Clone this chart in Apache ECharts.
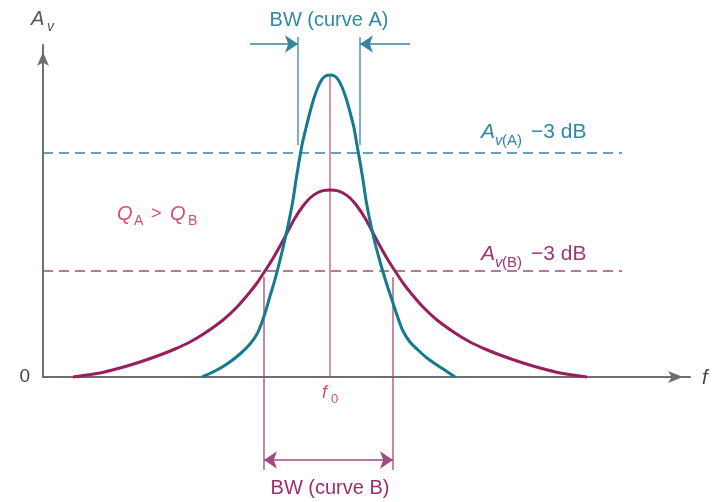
<!DOCTYPE html>
<html>
<head>
<meta charset="utf-8">
<script src="https://cdn.jsdelivr.net/npm/echarts@6/dist/echarts.min.js"></script>
<style>
  html, body { margin: 0; padding: 0; background: #fff; }
  #chart { width: 713px; height: 502px; }
</style>
</head>
<body>
<div id="chart"></div>
<script>
// Frequency and gain are in relative units; f0 sits at 57.4 on the frequency axis.
const xAxisMax = 129.4;
const yAxisMax = 83;

// Curve A: high-Q response (narrow, tall)
const curveA = [
  [31.8, 0], [34.4, 1.5], [36.8, 3.25], [39.4, 5.75], [41.4, 8.25], [42.8, 10.75],
  [43.8, 13.75], [44.6, 16.75], [45.4, 20.25], [46.2, 23.5], [47.0, 27.25], [47.8, 31.25],
  [48.6, 35.5], [49.4, 40.25], [50.0, 44.25], [50.6, 49.25], [51.2, 53.75], [51.8, 58],
  [52.6, 62.25], [53.4, 66.25], [54.2, 69.75], [55.0, 72.5], [55.8, 74.4], [56.6, 75.3],
  [57.4, 75.5], [58.2, 75.3], [59.0, 74.4], [59.8, 72.5], [60.6, 69.75], [61.4, 66.25],
  [62.2, 62.25], [62.8, 58], [63.4, 53.75], [64.0, 49.25], [64.6, 44.25], [65.2, 40.25],
  [65.8, 36.75], [66.4, 33.5], [67.2, 29.75], [68.0, 26.25], [69.0, 22.25], [70.0, 18.5],
  [71.0, 14.75], [72.0, 11.5], [73.4, 8.75], [75.0, 6.75], [76.8, 4.75], [78.8, 3],
  [80.6, 1.5], [82.4, 0]
];
// Curve B: low-Q response (wide, flatter)
const curveB = [
  [6.0, 0], [11.4, 1], [15.4, 2.25], [19.4, 3.75], [23.4, 5.5], [26.4, 7],
  [29.4, 8.75], [32.4, 11], [36.0, 14.25], [38.8, 17.5], [41.4, 21.25], [42.8, 23.5],
  [44.0, 25.75], [45.8, 29.25], [47.4, 32.75], [49.0, 36.5], [50.4, 39.75], [52.0, 42.75],
  [53.4, 44.75], [54.8, 46], [56.0, 46.6], [57.4, 46.75], [58.8, 46.6], [60.0, 46],
  [61.4, 44.75], [62.8, 42.75], [64.4, 39.75], [65.8, 36.5], [67.4, 32.75], [69.0, 29.25],
  [70.8, 25.75], [72.0, 23.5], [73.4, 21.25], [76.0, 17.5], [78.8, 14.25], [82.4, 11],
  [85.4, 8.75], [88.4, 7], [91.4, 5.5], [95.4, 3.75], [99.4, 2.25], [103.4, 1], [108.8, 0]
];

// -3 dB levels and the reach of their dashed guides
const levelA = 56;
const levelB = 26.5;
const levelLineEnd = 115.8;

// Resonant frequency and the peak of curve A
const f0 = 57.4;
const peakA = 75.5;

// Bandwidth markers: [lower edge, upper edge]
const bwA = [51.0, 63.4];
const bwB = [44.2, 70.0];
const bwAMarkerSpan = [85, 58];        // vertical extent of curve A edge markers
const bwBMarkerSpan = [25, -23.25];    // vertical extent of curve B edge markers
const bwAArrowY = 83.25;
const bwAArrowTails = [41.4, 73.4];
const bwBArrowY = -20.75;

const C = {
  axis: '#6e6e6e',
  tealCurve: '#137a90',
  tealLine: '#3584a0',
  tealText: '#2f89a3',
  magCurve: '#971f5d',
  magLine: '#a24a7f',
  magText: '#a03774',
  pink: '#d94d74',
  f0Line: '#cf4467'
};

function segment(name, pts, color, width, type) {
  return {
    name, type: 'line', data: pts, showSymbol: false, symbol: 'none', clip: false,
    silent: true, z: 1,
    lineStyle: { color, width, type: type || 'solid' }
  };
}

const series = [
  segment('levelA', [[0, levelA], [levelLineEnd, levelA]], C.tealLine, 1.5, [10, 6]),
  segment('levelB', [[0, levelB], [levelLineEnd, levelB]], C.magLine, 1.5, [10, 6]),
  segment('f0', [[f0, peakA], [f0, 0]], C.f0Line, 1.2),
  segment('bwA-lo', [[bwA[0], bwAMarkerSpan[0]], [bwA[0], bwAMarkerSpan[1]]], C.tealLine, 1.3),
  segment('bwA-hi', [[bwA[1], bwAMarkerSpan[0]], [bwA[1], bwAMarkerSpan[1]]], C.tealLine, 1.3),
  segment('bwB-lo', [[bwB[0], bwBMarkerSpan[0]], [bwB[0], bwBMarkerSpan[1]]], C.magLine, 1.3),
  segment('bwB-hi', [[bwB[1], bwBMarkerSpan[0]], [bwB[1], bwBMarkerSpan[1]]], C.magLine, 1.3),
  {
    name: 'curveB', type: 'line', data: curveB, smooth: 0.3, showSymbol: false,
    symbol: 'none', silent: true, z: 3, clip: false,
    lineStyle: { color: C.magCurve, width: 3 }
  },
  {
    name: 'curveA', type: 'line', data: curveA, smooth: 0.3, showSymbol: false,
    symbol: 'none', silent: true, z: 4, clip: false,
    lineStyle: { color: C.tealCurve, width: 3 }
  },
  {
    name: 'bwArrows', type: 'lines', coordinateSystem: 'cartesian2d', clip: false,
    silent: true, z: 5, symbolSize: 13,
    lineStyle: { opacity: 1, width: 1.5 },
    data: [
      { coords: [[bwAArrowTails[0], bwAArrowY], [bwA[0], bwAArrowY]],
        symbol: ['none', 'arrow'], lineStyle: { color: C.tealLine, width: 1.5, opacity: 1 } },
      { coords: [[bwAArrowTails[1], bwAArrowY], [bwA[1], bwAArrowY]],
        symbol: ['none', 'arrow'], lineStyle: { color: C.tealLine, width: 1.5, opacity: 1 } },
      { coords: [[bwB[0], bwBArrowY], [bwB[1], bwBArrowY]],
        symbol: ['arrow', 'arrow'], lineStyle: { color: C.magLine, width: 1.5, opacity: 1 } }
    ]
  }
];

const FONT = '"Liberation Sans", Arial, Helvetica, sans-serif';
function t(x, y, text, size, fill, opts) {
  opts = opts || {};
  return {
    type: 'text', x, y, silent: true, z: 10,
    style: {
      text, fill,
      font: (opts.italic ? 'italic ' : '') + size + 'px ' + FONT,
      textAlign: opts.align || 'left',
      textVerticalAlign: 'middle'
    }
  };
}

const graphic = [
  // axis titles
  t(31, 19, 'A', 20, '#555', { italic: true }),
  t(47, 27, 'v', 14, '#555', { italic: true }),
  t(702, 378, 'f', 20, '#444', { italic: true }),
  // resonant frequency
  t(322, 393, 'f', 18, C.pink, { italic: true }),
  t(331, 399, '0', 13, C.pink),
  // bandwidth labels
  t(329, 20, 'BW (curve A)', 20, C.tealText, { align: 'center' }),
  t(330, 488, 'BW (curve B)', 20, '#9b2f6d', { align: 'center' }),
  // Q comparison
  t(117, 214, 'Q', 20, C.pink, { italic: true }),
  t(134, 221, 'A', 14, C.pink),
  t(151, 214, '>', 18, C.pink),
  t(170, 214, 'Q', 20, C.pink, { italic: true }),
  t(188, 221, 'B', 14, C.pink),
  // -3 dB level labels
  t(481, 132, 'A', 21, C.tealText, { italic: true }),
  t(495, 141, 'v', 15, C.tealText, { italic: true }),
  t(502, 141, '(A)', 15, C.tealText),
  t(531, 132, '\u22123 dB', 21, C.tealText),
  t(481, 254, 'A', 21, C.magText, { italic: true }),
  t(495, 263, 'v', 15, C.magText, { italic: true }),
  t(502, 263, '(B)', 15, C.magText),
  t(531, 254, '\u22123 dB', 21, C.magText)
];

const chart = echarts.init(document.getElementById('chart'), null, { renderer: 'canvas' });
chart.setOption({
  animation: false,
  backgroundColor: '#ffffff',
  grid: { left: 43, right: 23, top: 45, bottom: 125, containLabel: false },
  xAxis: {
    type: 'value', min: 0, max: xAxisMax,
    axisLine: {
      show: true, onZero: false, symbol: ['none', 'arrow'], symbolSize: [9, 15],
      symbolOffset: [0, -7], lineStyle: { color: C.axis, width: 2 }
    },
    axisTick: { show: false }, axisLabel: { show: false }, splitLine: { show: false }
  },
  yAxis: {
    type: 'value', min: 0, max: yAxisMax, interval: yAxisMax,
    axisLine: {
      show: true, symbol: ['none', 'arrow'], symbolSize: [9, 14],
      symbolOffset: [0, -7], lineStyle: { color: C.axis, width: 2 }
    },
    axisTick: { show: false },
    axisLabel: {
      show: true, margin: 13, fontSize: 19, color: '#444', fontFamily: FONT,
      formatter: v => (v === 0 ? '0' : '')
    },
    splitLine: { show: false }
  },
  series,
  graphic
});
</script>
</body>
</html>
